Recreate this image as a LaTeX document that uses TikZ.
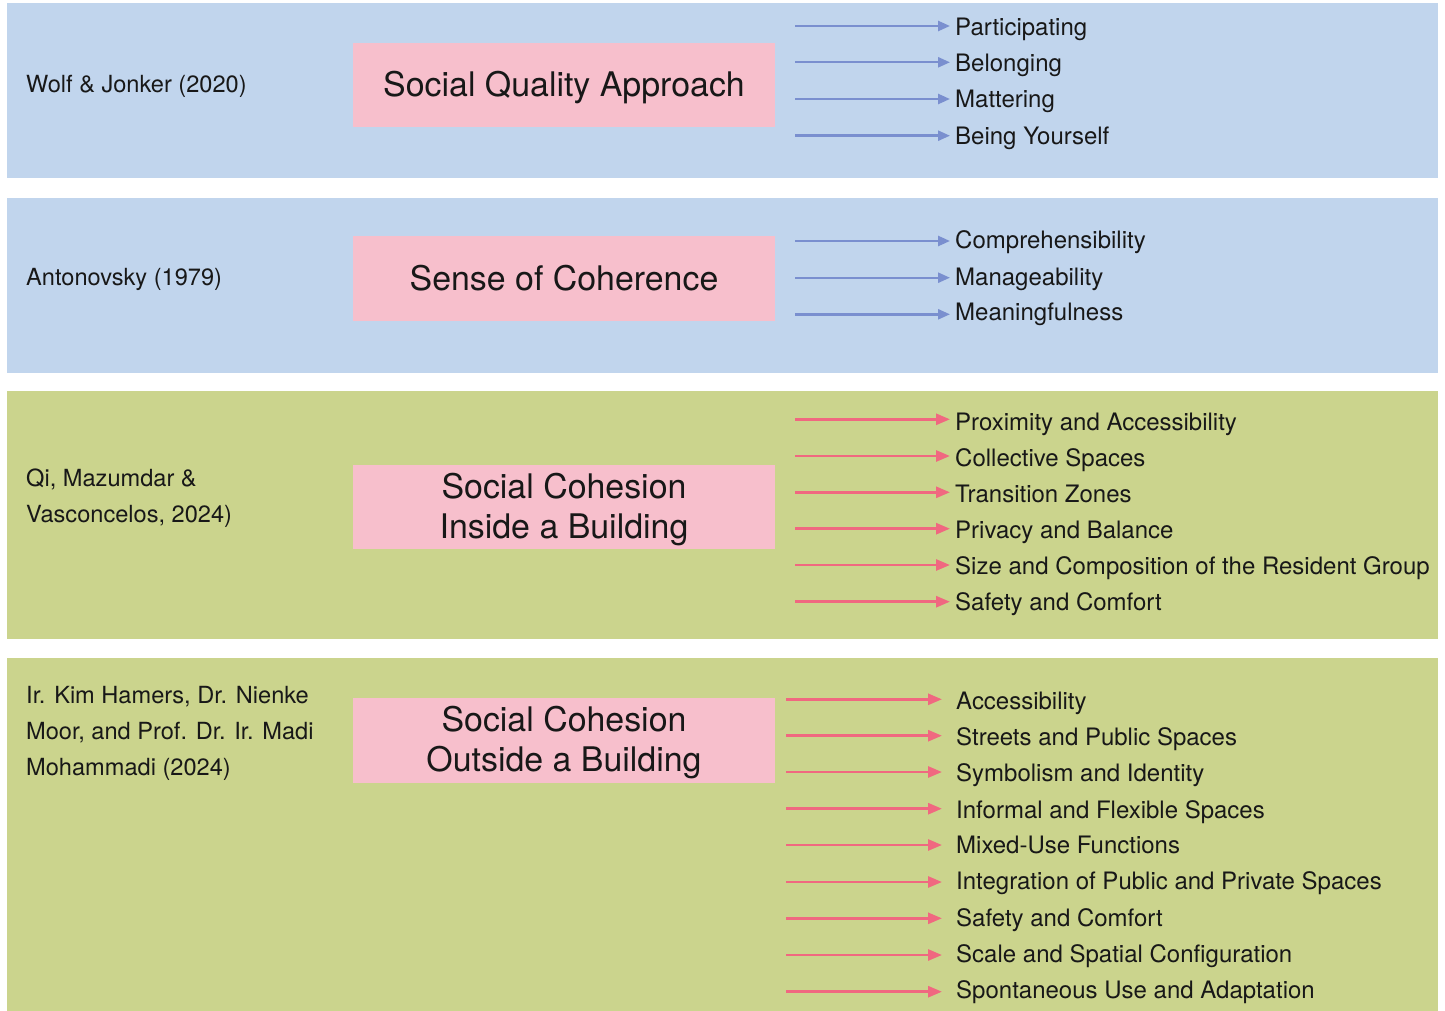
\documentclass[tikz,border=0pt]{standalone}
\usepackage{fontspec}
\setmainfont{TeX Gyre Heros}
\usetikzlibrary{arrows.meta}
\definecolor{bandblue}{RGB}{193,213,237}
\definecolor{bandgreen}{RGB}{203,212,141}
\definecolor{pinkbox}{RGB}{247,191,204}
\definecolor{arrowblue}{RGB}{122,143,207}
\definecolor{arrowpink}{RGB}{240,104,128}
\definecolor{ink}{RGB}{24,24,24}
\newcommand\tline[1]{\smash{#1}\rule[-1pt]{0pt}{25pt}}
\begin{document}
\begin{tikzpicture}[x=1pt,y=-1pt,
  titlebox/.style={fill=pinkbox, inner sep=0pt, outer sep=0pt, minimum width=422pt, align=center,
    font=\fontsize{33.9}{40}\selectfont, text=ink},
  srclabel/.style={anchor=north west, inner sep=0pt, align=left,
    font=\fontsize{23.6}{36}\selectfont, text=ink},
  item/.style={anchor=base west, inner ysep=0pt, inner xsep=5pt,
    font=\fontsize{24}{28}\selectfont, text=ink},
  itemwide/.style={item, inner xsep=14pt},
  barrow/.style={draw=arrowblue, line width=2.4pt, -{Triangle[length=12pt,width=10pt]}},
  parrow/.style={draw=arrowpink, line width=2.7pt, -{Triangle[length=14pt,width=11pt]}},
]
\useasboundingbox (0,0) rectangle (1445,1011);
% bands
\fill[bandblue]  (7,3)   rectangle (1438,178);
\fill[bandblue]  (7,198) rectangle (1438,373);
\fill[bandgreen] (7,391) rectangle (1438,639);
\fill[bandgreen] (7,658) rectangle (1438,1011);

% source labels
\node[srclabel] (s1) at (26,74) {\rule{0pt}{18pt}Wolf \& Jonker (2020)};
\node[srclabel] (s2) at (26,267) {\rule{0pt}{18pt}Antonovsky (1979)};
\node[srclabel] (s3) at (26,468) {\rule{0pt}{18pt}Qi, Mazumdar \&\\Vasconcelos, 2024)};
\node[srclabel] (s4) at (26,685.3) {\rule{0pt}{18pt}Ir. Kim Hamers, Dr. Nienke\\Moor, and Prof. Dr. Ir. Madi\\Mohammadi (2024)};

% title boxes
\node[titlebox, minimum height=84pt] (t1) at (564,85) {\tline{Social Quality Approach}};
\node[titlebox, minimum height=85pt] (t2) at (564,278.5) {\tline{Sense of Coherence}};
\node[titlebox, minimum height=84pt] (t3) at (564,507) {\tline{Social Cohesion}\\\tline{Inside a Building}};
\node[titlebox, minimum height=85pt] (t4) at (564,740.3) {\tline{Social Cohesion}\\\tline{Outside a Building}};

% group 1
\foreach \n/\a/\b/\t in {1/26/36/Participating, 2/62.3/72/Belonging, 3/99/108/Mattering, 4/135.7/145/Being Yourself}{
  \coordinate (a1-\n) at (795,\a);
  \node[item] (i1-\n) at (950,\b) {\t};
  \draw[barrow] (a1-\n) -- (a1-\n -| i1-\n.west);
}
% group 2
\foreach \n/\a/\b/\t in {1/241/248.3/Comprehensibility, 2/277.7/285/Manageability, 3/314.3/320.7/Meaningfulness}{
  \coordinate (a2-\n) at (795,\a);
  \node[item] (i2-\n) at (950,\b) {\t};
  \draw[barrow] (a2-\n) -- (a2-\n -| i2-\n.west);
}
% group 3
\foreach \n/\a/\b/\t in {1/419.3/430.7/Proximity and Accessibility, 2/456/466.7/Collective Spaces,
  3/492.3/502.7/Transition Zones, 4/528.7/538.3/Privacy and Balance,
  5/565/574.3/Size and Composition of the Resident Group, 6/601.7/610/Safety and Comfort}{
  \coordinate (a3-\n) at (795,\a);
  \node[item] (i3-\n) at (950,\b) {\t};
  \draw[parrow] (a3-\n) -- (a3-\n -| i3-\n.west);
}
% group 4
\foreach \n/\a/\b/\t in {1/699.3/709.3/Accessibility, 2/735.7/745.3/Streets and Public Spaces,
  3/772/781.7/Symbolism and Identity, 4/808.7/818/Informal and Flexible Spaces,
  5/845/853.3/Mixed-Use Functions, 6/882/889.3/Integration of Public and Private Spaces,
  7/918.3/926/Safety and Comfort, 8/955/962.7/Scale and Spatial Configuration,
  9/991.7/998.3/Spontaneous Use and Adaptation}{
  \coordinate (a4-\n) at (786,\a);
  \node[itemwide] (i4-\n) at (942,\b) {\t};
  \draw[parrow] (a4-\n) -- (a4-\n -| i4-\n.west);
}
\end{tikzpicture}
\end{document}
